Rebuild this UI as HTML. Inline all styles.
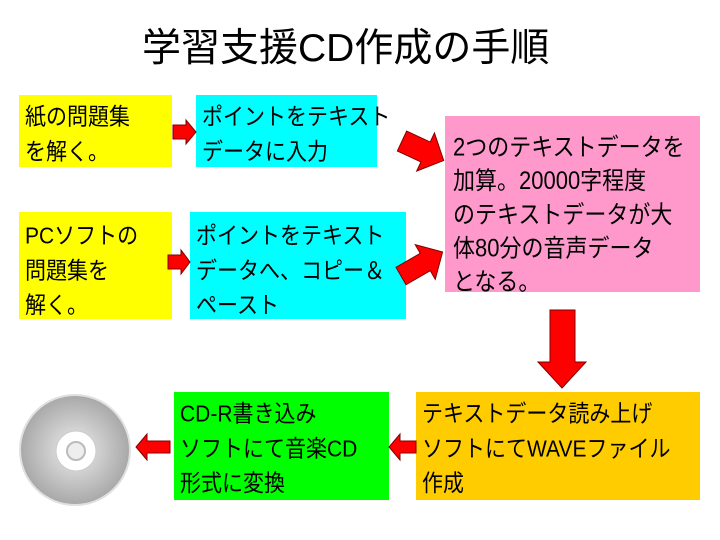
<!DOCTYPE html>
<html><head><meta charset="utf-8"><style>
body{margin:0;width:720px;height:540px;background:#fff;position:relative;overflow:hidden;font-family:"Liberation Sans","Noto Sans CJK JP",sans-serif;}
.b{position:absolute;font-size:21px;line-height:31px;color:#000;box-sizing:border-box;padding:5px 0 0 6px;white-space:nowrap;}
.b span{display:block;transform:scaleY(1.12);transform-origin:0 0;}
#t{position:absolute;left:142px;top:24px;font-size:39px;line-height:50px;white-space:nowrap;}
svg{position:absolute;left:0;top:0}
</style></head><body>
<div id="t">学習支援CD作成の手順</div>
<div class="b" style="left:19px;top:95px;width:153px;height:72px;background:#ffff00"><span>紙の問題集<br>を解く。</span></div>
<div class="b" style="left:196px;top:95px;width:181px;height:72px;background:#00ffff"><span>ポイントをテキスト<br>データに入力</span></div>
<div class="b" style="left:445px;top:116px;width:255px;height:176px;background:#ff99cc;padding-top:15px;padding-left:8px;line-height:30px;font-size:22px"><span style="transform:scaleY(1.12)">2つのテキストデータを<br>加算。20000字程度<br>のテキストデータが大<br>体80分の音声データ<br>となる。</span></div>
<div class="b" style="left:19px;top:212px;width:153px;height:107px;background:#ffff00;padding-top:7px"><span>PCソフトの<br>問題集を<br>解く。</span></div>
<div class="b" style="left:190px;top:212px;width:216px;height:107px;background:#00ffff;padding-top:7px"><span>ポイントをテキスト<br>データへ、コピー＆<br>ペースト</span></div>
<div class="b" style="left:416px;top:392px;width:284px;height:108px;background:#ffcc00;padding-top:5px"><span>テキストデータ読み上げ<br>ソフトにてWAVEファイル<br>作成</span></div>
<div class="b" style="left:174px;top:392px;width:215px;height:108px;background:#00ff00;padding-top:5px"><span>CD-R書き込み<br>ソフトにて音楽CD<br>形式に変換</span></div>
<svg width="720" height="540">
<defs><radialGradient id="g" cx="50%" cy="50%" r="50%"><stop offset="0.3" stop-color="#d8d8d8"/><stop offset="1" stop-color="#a8a8a8"/></radialGradient></defs>
<circle cx="75" cy="450" r="55" fill="url(#g)" stroke="#e0e0e0" stroke-width="2"/>
<circle cx="76" cy="451" r="20" fill="#fff" stroke="#ccc" stroke-width="1"/>
<circle cx="76" cy="451" r="9" fill="#eee" stroke="#bbb" stroke-width="2"/>
<g fill="#ff0000" stroke="#800000" stroke-width="1">
<polygon points="173,125 186,125 186,120 196,132 186,144 186,139 173,139"/>
<polygon points="168,255 181,255 181,250 190,262 181,274 181,269 168,269"/>
<polygon points="170,441 147,441 147,434 136,447 147,460 147,453 170,453"/>
<polygon points="416,441 400,441 400,434 389,447 400,460 400,453 416,453"/>
<polygon points="550,310 575,310 575,362 586,362 562,388 538,362 550,362"/>
<polygon transform="translate(402,141) rotate(25)" points="0,-11 26,-11 26,-21 46,0 26,21 26,11 0,11"/>
<polygon transform="translate(401,276) rotate(-30)" points="0,-10 28,-10 28,-20 48,0 28,20 28,10 0,10"/>
</g>
</svg>
</body></html>
